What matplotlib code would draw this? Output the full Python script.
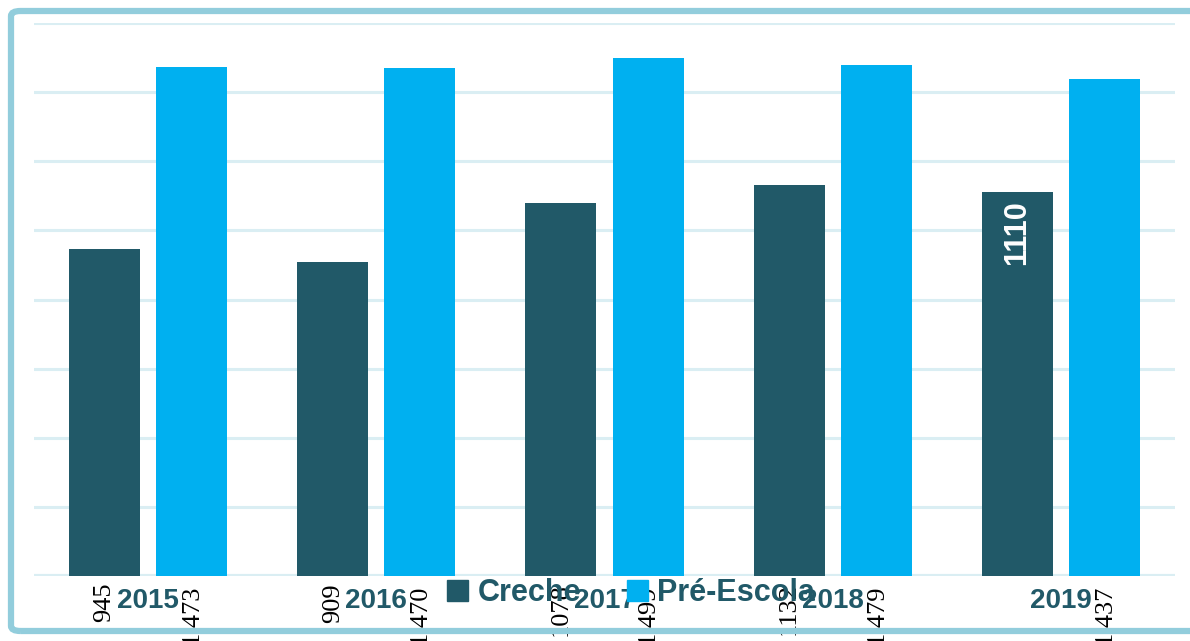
import numpy as np
import matplotlib
matplotlib.use("Agg")
import matplotlib.pyplot as plt
from matplotlib.patches import FancyBboxPatch, Patch

anos = ["2015", "2016", "2017", "2018", "2019"]
creche = [945, 909, 1078, 1132, 1110]
pre_escola = [1473, 1470, 1499, 1479, 1437]
creche_txt = ["945", "909", "1078", "1132", "1110"]
pre_txt = ["1.473", "1.470", "1.499", "1.479", "1.437"]

teal = "#215968"
azul = "#00B0F0"
grade = "#DAEEF3"
borda = "#92CDDC"

W, H = 1190, 641
fig = plt.figure(figsize=(W / 100, H / 100), dpi=100)
ax = fig.add_axes([34 / W, 65 / H, (1175 - 34) / W, (576 - 23) / H])

x = np.arange(len(anos))
larg = 0.311
desl = 0.191

for v in range(0, 1601, 200):
    ax.axhline(v, color=grade, lw=3.0 if v == 0 else 2.2, zorder=0)

ax.bar(x - desl, creche, larg, color=teal, zorder=2)
ax.bar(x + desl, pre_escola, larg, color=azul, zorder=2)

ax.set_xlim(-0.5, 4.5)
ax.set_ylim(0, 1600)
ax.axis("off")

# rotulos de valor abaixo do eixo (o ultimo de creche fica dentro da barra)
for i in range(len(anos)):
    if i < len(anos) - 1:
        ax.annotate(creche_txt[i], (x[i] - desl, 0), xytext=(0, -5),
                    textcoords="offset points", rotation=90, ha="center",
                    va="top", fontsize=19, family="Liberation Serif",
                    color="black", annotation_clip=False, zorder=6)
    else:
        ax.annotate(creche_txt[i], (x[i] - desl, creche[i]), xytext=(0, -6),
                    textcoords="offset points", rotation=90, ha="center",
                    va="top", fontsize=22, fontweight="bold",
                    family="Liberation Sans", color="white", zorder=6)
    ax.annotate(pre_txt[i], (x[i] + desl, 0), xytext=(0, -6),
                textcoords="offset points", rotation=90, ha="center",
                va="top", fontsize=19, family="Liberation Serif",
                color="black", annotation_clip=False, zorder=6)
    ax.annotate(anos[i], (x[i], 0), xytext=(0, -18),
                textcoords="offset points", ha="center", va="center",
                fontsize=20, fontweight="bold", family="Liberation Sans",
                color=teal, annotation_clip=False, zorder=5)

leg = fig.legend(handles=[Patch(color=teal, label="Creche"),
                          Patch(color=azul, label="Pré-Escola")],
                 loc="center", bbox_to_anchor=(631 / W, (H - 593) / H),
                 ncol=2, frameon=False, handlelength=0.7, handleheight=0.7,
                 handletextpad=0.3, columnspacing=1.5,
                 prop={"family": "Liberation Sans", "weight": "bold", "size": 22})
for t in leg.get_texts():
    t.set_color(teal)

# moldura arredondada (lado direito fica fora da imagem)
moldura = FancyBboxPatch((11 / W, (H - 631) / H), 1.05, (631 - 11) / H,
                         boxstyle="round,pad=0,rounding_size=0.008",
                         transform=fig.transFigure, fill=False,
                         edgecolor=borda, lw=4.5, clip_on=False, zorder=10)
fig.patches.append(moldura)

fig.savefig("out.png", dpi=100)
